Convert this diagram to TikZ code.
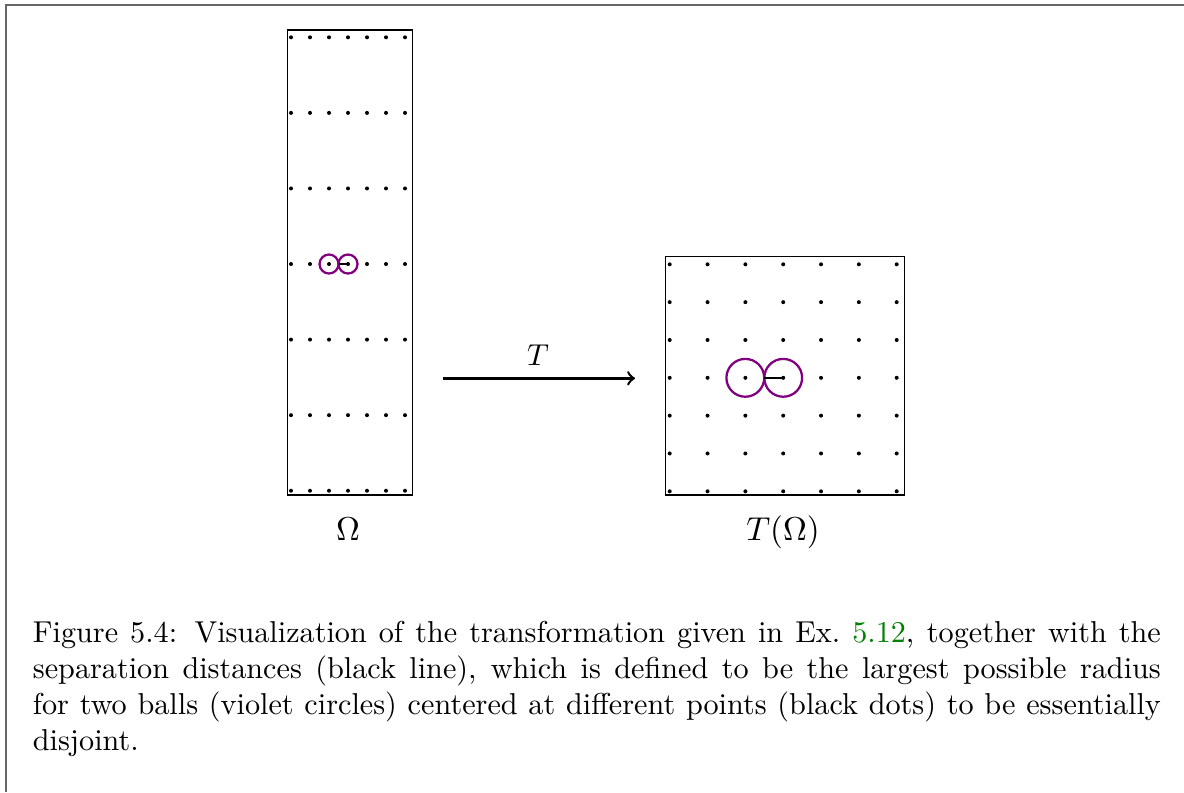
\documentclass[tikz,border=0pt]{standalone}
\usepackage{xcolor}
\definecolor{linkgreen}{rgb}{0,0.5,0}
\definecolor{framegray}{gray}{0.4}
\definecolor{ballviolet}{rgb}{0.5,0,0.5}
\begin{document}
\begin{tikzpicture}[x=0.33113pt,y=-0.33113pt,
  regionbox/.style={draw=black,line width=0.4pt},
  ball/.style={draw=ballviolet,line width=0.75pt},
  seploop/.style={draw=black,line width=0.8pt},
  mapto/.style={draw=black,line width=0.8pt,->},
  lbl/.style={inner sep=0pt,anchor=base},
  captext/.style={inner sep=0pt,anchor=base west,font=\fontsize{10}{12}\selectfont}]
\useasboundingbox (0,0) rectangle (1184,792);
% page frame
\draw[framegray,line width=0.6pt] (6,792) -- (6,4.7) -- (1184,4.7);
% left domain Omega
\draw[regionbox] (287.3,30) rectangle (412.7,495);
\foreach \i in {0,...,6}{\foreach \j in {0,...,6}{
  \fill ({291+19*\i},{37.3+75.57*\j}) circle[radius=2];}}
\draw[ball] (329,264) circle[radius=9.5];
\draw[ball] (348,264) circle[radius=9.5];
\draw[seploop] (338.5,264) -- (348,264);
\node[lbl,font=\fontsize{10.95}{13.6}\selectfont] (om) at (348,540) {$\Omega$};
% right domain T(Omega)
\draw[regionbox] (665.7,256.7) rectangle (904.3,495);
\foreach \i in {0,...,6}{\foreach \j in {0,...,6}{
  \fill ({669.7+37.83*\i},{264.3+37.83*\j}) circle[radius=2];}}
\draw[ball] (745.3,377.8) circle[radius=18.9];
\draw[ball] (783.2,377.8) circle[radius=18.9];
\draw[seploop] (764.3,377.8) -- (783.2,377.8);
\node[lbl,font=\fontsize{10.95}{13.6}\selectfont] (tom) at (783,540) {$T(\Omega)$};
% arrow T
\coordinate (a0) at (442.7,378.3);
\coordinate (a1) at (635,378.3);
\draw[mapto] (a0) -- (a1);
\node[lbl,font=\fontsize{10}{12}\selectfont] (tl) at (538,365) {$T$};
% caption
\node[captext] (cap) at (32.3,642) {\parbox[t]{373.5pt}{Figure 5.4: Visualization of the transformation given in Ex.~\textcolor{linkgreen}{5.12}, together with the\linebreak separation distances (black line), which is defined to be the largest possible radius\linebreak for two balls (violet circles) centered at different points (black dots) to be essentially\linebreak disjoint.}};
\end{tikzpicture}
\end{document}
